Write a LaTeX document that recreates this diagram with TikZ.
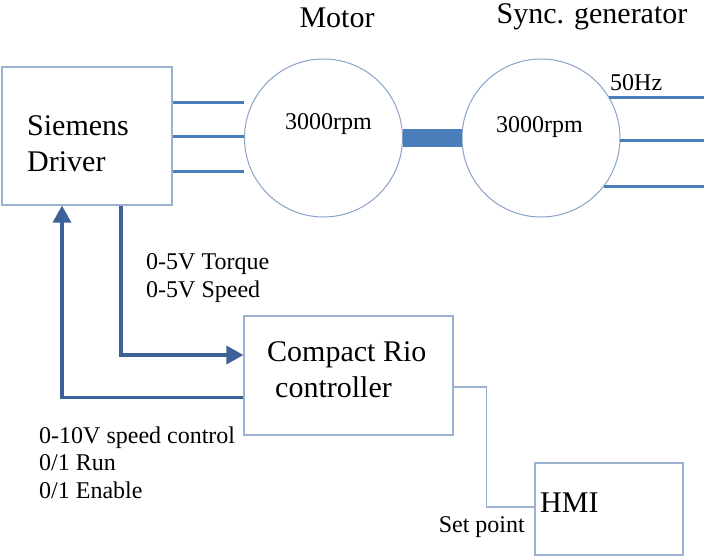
\documentclass[tikz,border=0pt]{standalone}
\usepackage{fontspec}
\setmainfont{Liberation Serif}
\usetikzlibrary{arrows.meta, positioning}

\definecolor{rahmen}{HTML}{9CB0D0}
\definecolor{kreis}{HTML}{8AA2C8}
\definecolor{leitung}{HTML}{4A7EBB}
\definecolor{signalblau}{HTML}{3D6199}

\begin{document}
\begin{tikzpicture}[x=1pt, y=-1pt, >={Triangle[width=18pt,length=17pt]},
	kasten/.style={draw=rahmen, line width=1.2pt, inner sep=0pt},
	rad/.style={draw=kreis, line width=1pt, circle, minimum size=158pt, inner sep=0pt},
	gross/.style={font=\fontsize{30}{36}\selectfont, inner sep=0pt},
	klein/.style={font=\fontsize{24}{27.5}\selectfont, inner sep=0pt},
	phase/.style={leitung, line width=3pt},
	signal/.style={signalblau, line width=3.5pt}]
				
				\useasboundingbox (0,0) rectangle (704,556);
				
				% --- Siemens Driver ---
				\node[kasten, minimum width=170pt, minimum height=138pt] (drv) at (87,136) {};
				\node[gross, anchor=base west, align=left] (drvtxt) at (27,172) {Siemens\\Driver};
				
				% --- Motor und Generator ---
				\node[rad] (mot) at (323.5,138) {};
				\node[rad] (gen) at (541,138) {};
				\node[gross, anchor=base] (motlbl) at (337,28) {Motor};
				\node[gross, anchor=base] (genlbl) at (592,24) {Sync. generator};
				\node[klein, anchor=base west] (motrpm) at (285,130) {3000rpm};
				\node[klein, anchor=base west] (genrpm) at (496,133) {3000rpm};
				\node[klein, anchor=base west] (hz) at (610,91) {50Hz};
				
				% Welle
				\draw[leitung, line width=18pt] (mot.east) -- (gen.west);
				
				% Phasen Driver -> Motor
				\foreach \y in {103,137,172}{
					\draw[phase] (drv.east |- 0,\y) -- (mot.west |- 0,\y);
				}
				% Phasen Generator (50Hz)
				\foreach \w in {31,-2,-38}{
					\draw[phase] (gen.\w) -- (gen.\w -| 704,0);
				}
				
				% --- Compact Rio ---
				\node[kasten, minimum width=209pt, minimum height=119pt] (rio) at (348.5,375.5) {};
				\node[gross, anchor=base west, align=left] (riotxt) at (267,397) {Compact Rio\\\hspace*{8pt}controller};
				
				% --- HMI ---
				\node[kasten, minimum width=148pt, minimum height=92pt] (hmi) at (609,509) {};
				\node[gross, anchor=base west] (hmitxt) at (540,512) {HMI};
				
				% --- Signale ---
				\draw[signal, ->] ([xshift=34pt]drv.south) |- ([yshift=20.5pt]rio.west);
				\draw[signal, ->] ([yshift=-22pt]rio.west) -| ([xshift=-25pt]drv.south);
				\node[klein, anchor=base west, align=left] (sig1) at (146,297) {0-5V Torque\\0-5V Speed};
				\node[klein, anchor=base west, align=left] (sig2) at (39,498) {0-10V speed control\\0/1 Run\\0/1 Enable};
				
				% Sollwert
				\draw[kasten] ([yshift=-11.5pt]rio.east) -- ++(33,0) |- ([yshift=2pt]hmi.west);
				\node[klein, anchor=base east] (soll) at (525,532) {Set point};
				
			\end{tikzpicture}
\end{document}
